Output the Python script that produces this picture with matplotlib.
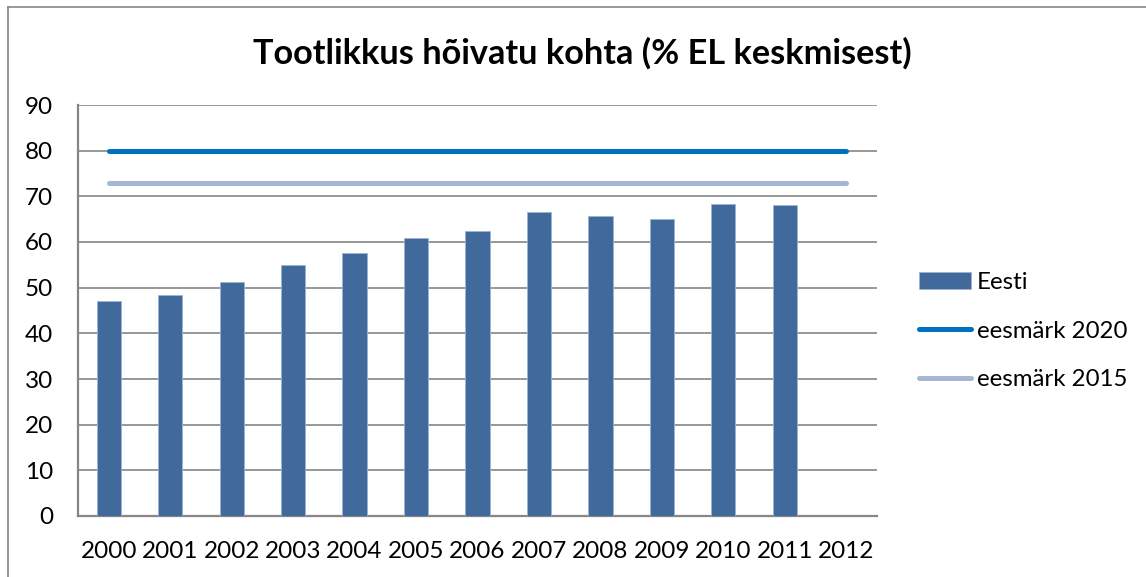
import matplotlib
matplotlib.use("Agg")
import matplotlib.pyplot as plt
import numpy as np
from matplotlib.lines import Line2D

years = ["2000", "2001", "2002", "2003", "2004", "2005", "2006",
         "2007", "2008", "2009", "2010", "2011", "2012"]
eesti = [47.1, 48.3, 51.2, 54.9, 57.7, 60.8, 62.3, 66.6, 65.8, 65.1, 68.4, 68.0, np.nan]
eesmark_2020 = [80] * 13
eesmark_2015 = [73] * 13
y_ticks = [0, 10, 20, 30, 40, 50, 60, 70, 80, 90]

title = "Tootlikkus hõivatu kohta (% EL keskmisest)"

bar_color = "#41699B"
c2020 = "#0070C0"
c2015 = "#A6B7D4"
grid_c = "#868686"

plt.rcParams['font.family'] = ['Lato', 'DejaVu Sans']

W, H = 1146, 577
fig = plt.figure(figsize=(W / 100, H / 100), dpi=100)
ax = fig.add_axes([78 / W, 1 - 516 / H, (877 - 78) / W, (516 - 105) / H])

x = np.arange(len(years))
bars = ax.bar(x, eesti, width=0.395, color=bar_color, edgecolor="#9DB3D4",
              linewidth=0.6, zorder=3, label="Eesti")
l20, = ax.plot(x, eesmark_2020, color=c2020, lw=3.6, solid_capstyle="round",
               zorder=4, label="eesmärk 2020")
l15, = ax.plot(x, eesmark_2015, color=c2015, lw=3.6, solid_capstyle="round",
               zorder=4, label="eesmärk 2015")

ax.set_xlim(-0.5, len(years) - 0.5)
ax.set_ylim(0, 90)
ax.set_yticks(y_ticks)
ax.set_xticks(x)
ax.set_xticklabels(years)
ax.yaxis.grid(True, color=grid_c, lw=1.2, zorder=0)
ax.set_axisbelow(True)
for s in ["top", "right"]:
    ax.spines[s].set_visible(False)
for s in ["left", "bottom"]:
    ax.spines[s].set_color(grid_c)
    ax.spines[s].set_linewidth(1.6)
ax.tick_params(axis="y", length=0, pad=18, labelsize=17.5, colors="black")
ax.tick_params(axis="x", length=0, pad=18, labelsize=17.5, colors="black")

fig.text(0.5 * (255 + 910) / W, 1 - 53 / H, title, ha="center", va="center",
         fontsize=24.7, fontweight="bold")

handles = [bars, l20, l15]
leg = fig.legend(handles, [h.get_label() for h in handles],
                 loc="center left", bbox_to_anchor=(919 / W, 1 - 331 / H),
                 frameon=False, fontsize=17.3, borderpad=0, borderaxespad=0,
                 handlelength=2.16, handletextpad=0.25, labelspacing=1.16,
                 handleheight=0.7)

# outer chart frame (cut at right and bottom)
fig.add_artist(Line2D([8 / W, 1.0], [1 - 7 / H, 1 - 7 / H], color=grid_c, lw=1.2,
                      transform=fig.transFigure))
fig.add_artist(Line2D([8 / W, 8 / W], [0, 1 - 7 / H], color=grid_c, lw=1.2,
                      transform=fig.transFigure))

fig.savefig("out.png", dpi=100)
